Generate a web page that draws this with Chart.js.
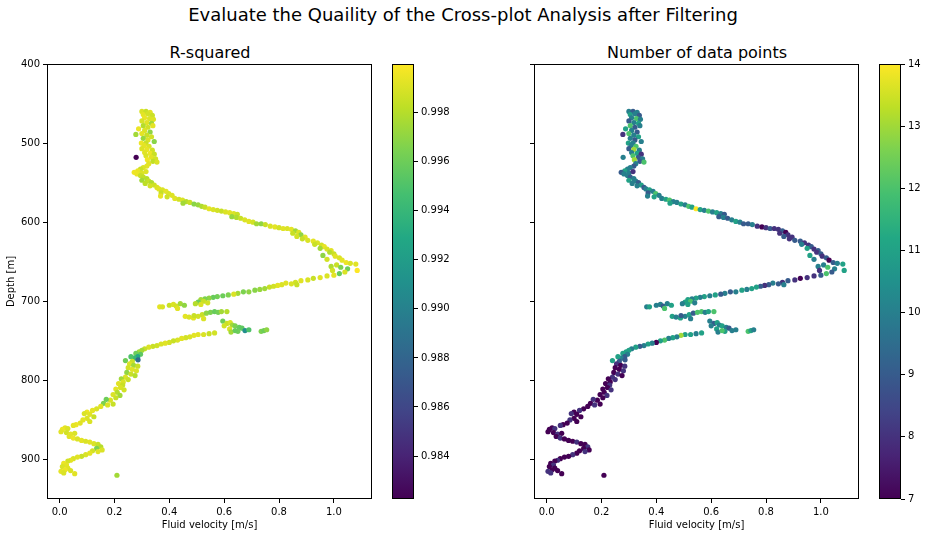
<!DOCTYPE html>
<html>
<head>
<meta charset="utf-8">
<title>Cross-plot quality</title>
<script src="https://cdn.jsdelivr.net/npm/chart.js@4.4.1/dist/chart.umd.min.js"></script>
<style>
  body { margin: 0; width: 927px; height: 537px; background: #fff; position: relative; overflow: hidden;
         font-family: "DejaVu Sans", sans-serif; color: #000; }
  canvas { position: absolute; top: 0; }
  .ttl { position: absolute; white-space: nowrap; transform: translateX(-50%); line-height: 1; }
</style>
</head>
<body>
<div class="ttl" style="left:463px; top:6px; font-size:18px;">Evaluate the Quaility of the Cross-plot Analysis after Filtering</div>
<div class="ttl" style="left:210px; top:45px; font-size:16px;">R-squared</div>
<div class="ttl" style="left:697px; top:45px; font-size:16px;">Number of data points</div>

<canvas id="rsqPlot" width="392" height="537" style="left:0px"></canvas>
<canvas id="rsqBar" width="60" height="537" style="left:392px"></canvas>
<canvas id="nPlot" width="392" height="537" style="left:487px"></canvas>
<canvas id="nBar" width="48" height="537" style="left:879px"></canvas>

<script>
// fluid velocity [m/s], one line per stretch of the profile (top to bottom)
const velocity = [
  0.300,0.315,0.330,0.305,0.322,0.338,0.310,0.328,0.342,0.300,0.318,0.335,0.305,0.322,0.340,0.288,0.310,0.330,0.278,0.300,0.318,0.335,0.305,0.322,0.345,0.298,0.315,
  0.308,0.326,0.300,0.318,0.338,0.310,0.330,0.345,0.279,0.315,0.335,0.350,0.320,0.340,0.355,0.325,
  0.318,0.305,0.295,0.285,0.272,0.282,0.300,0.315,
  0.295,0.305,0.318,0.300,0.325,0.335,0.312,0.345,0.330,0.355,
  0.362,0.375,0.388,0.370,0.398,0.410,0.368,0.392,
  0.420,0.435,0.448,0.462,0.450,0.475,0.490,0.505,0.518,0.530,
  0.545,0.560,0.575,0.590,0.605,0.620,0.635,0.648,
  0.628,0.645,0.660,0.675,0.690,0.705,0.718,
  0.735,0.750,0.768,0.785,0.800,0.815,0.830,
  0.845,0.860,0.850,0.872,0.880,0.865,0.895,0.885,0.905,
  0.925,0.940,0.930,0.955,0.965,0.950,0.975,0.990,0.985,1.000,
  0.960,1.005,1.020,0.975,1.030,1.045,1.060,1.080,1.010,0.990,1.025,1.050,1.085,1.040,0.995,1.020,
  1.000,0.975,0.950,0.925,0.905,0.880,0.860,0.845,0.865,
  0.825,0.810,0.795,0.780,0.765,0.748,0.730,0.712,0.690,0.670,0.650,0.635,
  0.615,0.595,0.575,0.560,0.545,0.530,0.515,0.525,0.505,0.495,0.515,0.540,
  0.365,0.375,0.400,0.415,0.425,0.440,0.455,0.430,
  0.458,0.472,0.488,0.505,0.520,0.535,0.550,0.565,0.578,0.590,0.610,0.525,0.490,
  0.595,0.610,0.622,0.630,0.640,0.655,0.665,0.600,0.620,0.676,0.650,0.625,0.690,0.735,0.745,0.755,0.640,
  0.565,0.545,0.525,0.505,0.490,0.475,0.460,0.445,0.430,0.415,0.400,0.385,0.370,0.355,0.340,0.325,0.310,0.300,
  0.290,0.278,0.295,0.285,0.272,0.260,0.240,0.265,0.286,
  0.255,0.270,0.285,0.250,0.265,0.280,0.245,0.260,0.275,0.240,0.225,0.250,0.232,
  0.215,0.230,0.222,0.205,0.235,0.210,0.195,0.220,0.205,0.185,0.170,0.160,0.175,0.195,
  0.150,0.135,0.120,0.100,0.090,0.110,0.125,0.100,0.085,0.110,0.075,0.060,0.050,
  0.020,0.010,0.030,0.005,0.025,0.040,0.055,0.035,0.050,0.065,
  0.080,0.095,0.110,0.125,0.140,0.150,0.135,0.155,0.120,0.140,
  0.110,0.095,0.080,0.065,0.050,0.040,0.030,
  0.015,0.025,0.010,0.030,0.020,0.005,0.040,0.055,0.015,0.209
];

// depth [m]
const depth = [
  460,460,461,464,463,465,468,469,470,472,474,475,478,480,478,482,484,486,489,488,490,492,494,496,498,500,500,
  503,504,507,508,509,512,513,514,518,516,518,520,521,523,524,526,
  529,531,533,535,537,539,538,536,
  541,543,545,547,548,550,551,553,554,556,
  558,559,561,563,564,566,567,568,
  570,571,572,574,576,575,577,578,580,581,
  583,584,585,586,587,588,589,590,
  593,594,595,597,599,600,602,
  602,603,605,606,607,608,608,
  609,611,614,613,616,618,619,621,623,
  624,626,628,629,631,633,634,636,638,640,
  642,643,645,647,648,651,652,653,654,656,657,659,661,663,661,665,
  667,668,670,671,673,674,676,678,679,
  677,679,680,681,682,684,685,686,688,688,690,691,
  692,693,694,695,696,697,698,700,701,703,704,702,
  707,707,705,704,706,703,705,709,
  719,720,721,719,717,715,714,713,714,713,713,722,718,
  725,728,727,730,731,733,734,731,735,737,738,739,736,738,737,736,737,
  740,741,742,742,743,745,746,747,749,750,752,753,754,756,757,758,760,762,
  764,766,767,770,772,770,775,776,774,
  779,781,782,784,786,788,790,792,794,796,798,799,802,
  804,806,809,811,812,815,818,819,822,825,824,829,831,830,
  833,836,838,840,842,843,846,848,850,852,854,856,857,
  860,862,861,865,866,868,867,871,873,874,
  876,877,878,880,881,884,886,888,889,890,
  892,894,896,897,899,901,902,
  905,907,909,911,913,915,914,918,917,920
];

// R-squared of each cross-plot fit
const rSquared = [
  0.9990,0.9985,0.9992,0.9993,0.9988,0.9986,0.9994,0.9990,0.9991,0.9989,0.9992,0.9975,0.9980,0.9987,0.9993,0.9995,0.9990,0.9970,0.9975,0.9993,0.9985,0.9988,0.9972,0.9990,0.9968,0.9995,0.9985,
  0.9993,0.9990,0.9991,0.9994,0.9987,0.9992,0.9995,0.9985,0.98225,0.9990,0.9992,0.9988,0.9996,0.9983,0.9990,0.9992,
  0.9993,0.9990,0.9985,0.9994,0.9996,0.9995,0.9990,0.9991,
  0.9985,0.9983,0.9980,0.9975,0.9984,0.9978,0.9982,0.9986,0.9988,0.9990,
  0.9992,0.9990,0.9993,0.9985,0.9990,0.9991,0.9994,0.9987,
  0.9992,0.9988,0.9990,0.9980,0.9975,0.9985,0.9968,0.9972,0.9978,0.9985,
  0.9993,0.9990,0.9988,0.9985,0.9990,0.9992,0.9990,0.9985,
  0.9972,0.9978,0.9985,0.9990,0.9992,0.9988,0.9975,
  0.9970,0.9985,0.9990,0.9993,0.9988,0.9992,0.9990,
  0.9993,0.9975,0.9985,0.9990,0.9970,0.9988,0.9992,0.9985,0.9990,
  0.9993,0.9990,0.9985,0.9988,0.9994,0.9975,0.9990,0.9992,0.9980,0.9985,
  0.9970,0.9992,0.9990,0.9988,0.9993,0.9995,0.9990,0.9992,0.9985,0.9978,0.9965,0.9960,0.99998,0.9990,0.9988,0.9958,
  0.9993,0.9990,0.9992,0.9985,0.9990,0.9992,0.9988,0.9990,0.9985,
  0.9992,0.9990,0.9993,0.9988,0.9985,0.9975,0.9972,0.9968,0.9970,0.9965,0.9975,0.9990,
  0.9965,0.9960,0.9962,0.9958,0.9970,0.9965,0.9975,0.9985,0.9960,0.9980,0.9990,0.9988,
  0.9993,0.9990,0.9985,0.9990,0.9988,0.9975,0.9970,0.9992,
  0.9993,0.9990,0.9992,0.9988,0.9985,0.9970,0.9965,0.9958,0.9962,0.9975,0.9980,0.9990,0.9985,
  0.9960,0.9985,0.9990,0.9975,0.9965,0.9958,0.9955,0.9988,0.9990,0.9910,0.9960,0.9975,0.9950,0.9965,0.9960,0.9970,0.9958,
  0.9988,0.9985,0.9990,0.9992,0.9993,0.9990,0.9988,0.9992,0.9990,0.9985,0.9988,0.9992,0.9990,0.9987,0.9985,0.9990,0.9985,0.9975,
  0.9975,0.9960,0.9955,0.9930,0.9940,0.9950,0.9960,0.9985,0.9885,
  0.9990,0.9975,0.9985,0.9988,0.9992,0.9990,0.9970,0.9985,0.9980,0.9990,0.9975,0.9985,0.9990,
  0.9992,0.9985,0.9990,0.9993,0.9988,0.9980,0.9990,0.9975,0.9985,0.9990,0.9960,0.9965,0.9990,0.9985,
  0.9992,0.9990,0.9993,0.9995,0.9990,0.9992,0.9985,0.9990,0.9993,0.9990,0.9992,0.9995,0.9993,
  0.9993,0.9995,0.9990,0.9992,0.9988,0.9993,0.9990,0.9992,0.9995,0.9990,
  0.9993,0.9990,0.9992,0.9990,0.9985,0.9980,0.9965,0.9990,0.9988,0.9992,
  0.9993,0.9990,0.9985,0.9992,0.9990,0.9993,0.9988,
  0.9995,0.9993,0.9990,0.9992,0.9995,0.9993,0.9990,0.9992,0.9990,0.9975
];

// number of data points used in each fit
const nPoints = [
  10,9,10,11,10,9,10,12,10,9,10,11,12,9,10,11,10,9,8,12,10,11,10,9,10,11,10,
  10,12,9,13,10,10,11,8,10,12,9,10,13,9,12,10,
  9,10,10,11,9,10,10,8,
  10,9,10,11,10,9,10,11,10,9,
  10,11,10,9,12,10,10,11,
  10,11,12,10,11,10,11,10,12,11,
  14,11,10,12,10,11,10,9,
  9,10,9,10,11,10,9,
  9,10,8,7,8,9,8,
  8,9,8,7,8,9,8,8,9,
  9,8,10,8,9,11,8,9,8,9,
  11,8,9,10,7,9,10,11,10,10,12,10,11,9,8,12,
  9,8,8,7,8,9,8,9,10,
  10,9,8,9,11,11,10,11,10,9,10,9,
  11,10,11,10,11,10,11,12,11,10,11,10,
  10,11,10,10,9,10,11,12,
  11,10,11,10,11,9,12,12,10,11,12,10,9,
  10,9,11,10,11,10,9,10,11,10,11,10,10,12,11,10,12,
  11,10,11,11,13,10,11,10,12,11,7,10,11,10,9,11,10,11,
  11,11,10,9,10,11,11,9,9,
  8,7,8,7,7,8,7,8,7,8,7,8,7,
  7,8,7,7,8,7,7,8,7,7,8,7,8,7,
  7,7,8,7,8,7,7,7,8,7,7,7,8,
  7,7,8,7,7,8,7,7,8,7,
  7,7,8,7,7,8,7,7,7,8,
  7,8,7,7,7,8,7,
  7,8,7,7,7,8,7,7,8,7
];

// axis ranges and ticks
const velocityRange = [-0.046, 1.139];
const depthRange = [400, 950];
const velocityTicks = [0.0, 0.2, 0.4, 0.6, 0.8, 1.0];
const depthTicks = [400, 500, 600, 700, 800, 900];
const rsqRange = [0.98225, 0.99998];
const rsqTicks = [0.984, 0.986, 0.988, 0.990, 0.992, 0.994, 0.996, 0.998];
const nRange = [7, 14];
const nTicks = [7, 8, 9, 10, 11, 12, 13, 14];

const VIRIDIS = ['#440154','#482475','#414487','#355f8d','#2a788e','#21918c',
                 '#22a884','#44bf70','#7ad151','#bddf26','#fde725'];

function hexRgb(h) {
  return [parseInt(h.slice(1, 3), 16), parseInt(h.slice(3, 5), 16), parseInt(h.slice(5, 7), 16)];
}

function viridis(value, range) {
  let t = (value - range[0]) / (range[1] - range[0]);
  t = Math.min(1, Math.max(0, t));
  const p = t * 10;
  const i = Math.min(9, Math.floor(p));
  const f = p - i;
  const a = hexRgb(VIRIDIS[i]), b = hexRgb(VIRIDIS[i + 1]);
  const c = a.map((v, k) => Math.round(v + (b[k] - v) * f));
  return `rgb(${c[0]},${c[1]},${c[2]})`;
}

Chart.defaults.font.family = '"DejaVu Sans", sans-serif';
Chart.defaults.font.size = 10;
Chart.defaults.color = '#000';

// black box round the plot area, like matplotlib spines
const framePlugin = {
  id: 'frame',
  afterDraw(chart) {
    const a = chart.chartArea;
    const ctx = chart.ctx;
    ctx.save();
    ctx.strokeStyle = '#000';
    ctx.lineWidth = 1;
    ctx.strokeRect(Math.round(a.left) + 0.5, Math.round(a.top) + 0.5,
                   Math.round(a.right - a.left) - 1, Math.round(a.bottom - a.top) - 1);
    ctx.restore();
  }
};

const tickGrid = { display: true, drawOnChartArea: false, drawTicks: true, tickLength: 4, tickColor: '#000', tickWidth: 1 };

function fixSize(prop, size) {
  return function(scale) {
    scale[prop] = size;
    scale.paddingTop = scale.paddingBottom = scale.paddingLeft = scale.paddingRight = 0;
  };
}

function setTicks(values) {
  return function(scale) { scale.ticks = values.map(v => ({ value: v })); };
}

function scatterPlot(canvasId, colorValues, colorRange, showDepthLabels) {
  const points = velocity.map((v, i) => ({ x: v, y: depth[i] }));
  const colors = colorValues.map(v => viridis(v, colorRange));
  return new Chart(document.getElementById(canvasId), {
    type: 'scatter',
    data: {
      datasets: [{
        data: points,
        pointBackgroundColor: colors,
        pointBorderWidth: 0,
        pointRadius: 2.6,
        pointHoverRadius: 2.6
      }]
    },
    options: {
      responsive: false,
      animation: false,
      layout: { padding: { top: 64, right: 20, left: 0, bottom: 0 } },
      plugins: { legend: { display: false }, tooltip: { enabled: false } },
      scales: {
        x: {
          type: 'linear',
          min: velocityRange[0], max: velocityRange[1],
          afterBuildTicks: setTicks(velocityTicks),
          afterFit: fixSize('height', 38),
          grid: tickGrid,
          border: { display: false },
          ticks: { padding: 3, callback: v => v.toFixed(1), maxRotation: 0 },
          title: { display: true, text: 'Fluid velocity [m/s]', padding: { top: 0, bottom: 6 } }
        },
        y: {
          type: 'linear',
          reverse: true,
          min: depthRange[0], max: depthRange[1],
          afterBuildTicks: setTicks(depthTicks),
          afterFit: fixSize('width', 47),
          grid: tickGrid,
          border: { display: false },
          ticks: { padding: 3, display: showDepthLabels, callback: v => String(v) },
          title: { display: showDepthLabels, text: 'Depth [m]', padding: { top: 5, bottom: 0 } }
        }
      }
    },
    plugins: [framePlugin]
  });
}

function colorBar(canvasId, range, ticks, axisWidth, digits) {
  return new Chart(document.getElementById(canvasId), {
    type: 'bar',
    data: {
      labels: [''],
      datasets: [{
        data: [[range[0], range[1]]],
        barPercentage: 1,
        categoryPercentage: 1,
        borderWidth: 0,
        backgroundColor(ctx) {
          const a = ctx.chart.chartArea;
          if (!a) return 'transparent';
          const g = ctx.chart.ctx.createLinearGradient(0, a.bottom, 0, a.top);
          VIRIDIS.forEach((c, i) => g.addColorStop(i / 10, c));
          return g;
        }
      }]
    },
    options: {
      responsive: false,
      animation: false,
      layout: { padding: { top: 64, right: 0, left: 0, bottom: 38 } },
      plugins: { legend: { display: false }, tooltip: { enabled: false } },
      scales: {
        x: { display: false },
        y: {
          position: 'right',
          min: range[0], max: range[1],
          afterBuildTicks: setTicks(ticks),
          afterFit: fixSize('width', axisWidth),
          grid: tickGrid,
          border: { display: false },
          ticks: { padding: 3, callback: v => v.toFixed(digits) }
        }
      }
    },
    plugins: [framePlugin]
  });
}

scatterPlot('rsqPlot', rSquared, rsqRange, true);
colorBar('rsqBar', rsqRange, rsqTicks, 38, 3);
scatterPlot('nPlot', nPoints, nRange, false);
colorBar('nBar', nRange, nTicks, 26, 0);
</script>
</body>
</html>
